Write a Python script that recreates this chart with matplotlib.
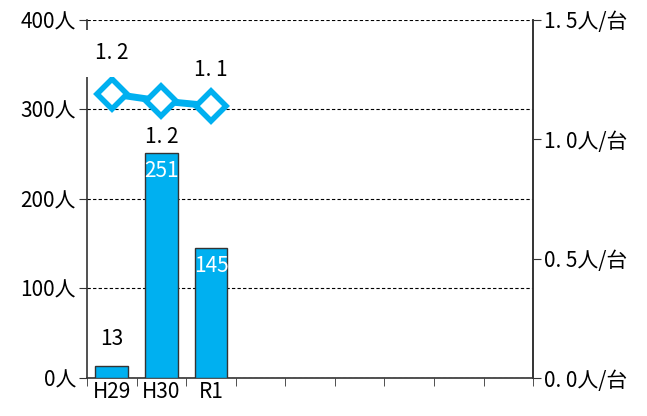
import numpy as np
import matplotlib.pyplot as plt

plt.rcParams['font.family'] = ['Noto Sans CJK JP', 'DejaVu Sans']

年度 = ['H29', 'H30', 'R1', '', '', '', '', '', '']
人数 = [13, 251, 145]
人数_台 = [1.19, 1.16, 1.14]
比率ラベル = ['1. 2', '1. 2', '1. 1']
色 = '#00B0F0'
fs = 15

fig = plt.figure(figsize=(6.47, 4.16), dpi=100)
ax = fig.add_axes([0.1345, 0.0913, 0.6895, 0.861])
x = np.arange(len(年度))
n = len(人数)

ax.bar(x[:n], 人数, width=0.66, color=色, edgecolor='#333333', linewidth=1, zorder=3)
for i, v in enumerate(人数):
    if v < 50:
        ax.text(i, v + 18, str(v), ha='center', va='bottom', fontsize=fs, color='black')
    else:
        ax.text(i, v - 8, str(v), ha='center', va='top', fontsize=fs, color='white', zorder=4)

ax.set_xlim(-0.5, len(年度) - 0.5)
ax.set_ylim(0, 400)
ax.set_yticks([0, 100, 200, 300, 400])
ax.set_yticklabels([f'{v}人' for v in [0, 100, 200, 300, 400]], fontsize=fs)
ax.set_xticks(x)
ax.set_xticklabels(年度, fontsize=fs)
ax.set_xticks(np.arange(-0.5, len(年度)), minor=True)
ax.tick_params(axis='x', which='major', length=0, pad=2)
ax.tick_params(axis='x', which='minor', length=6, direction='out', color='#333333')
ax.tick_params(axis='y', length=6, direction='out', color='#333333', pad=2)
ax.grid(axis='y', linestyle=(0, (3, 2)), color='black', linewidth=0.8, zorder=0)
ax.spines['top'].set_visible(False)
for s in ['left', 'bottom', 'right']:
    ax.spines[s].set_color('#333333')
    ax.spines[s].set_linewidth(1.2)

ax2 = ax.twinx()
ax2.set_ylim(0, 1.5)
ax2.set_yticks([0, 0.5, 1.0, 1.5])
ax2.set_yticklabels([f'{v:.1f}'.replace('.', '. ') + '人/台' for v in [0, 0.5, 1.0, 1.5]], fontsize=fs)
ax2.tick_params(axis='y', length=6, direction='out', color='#333333', pad=2)
for s in ['top', 'left', 'bottom']:
    ax2.spines[s].set_visible(False)
ax2.spines['right'].set_color('#333333')
ax2.spines['right'].set_linewidth(1.2)

ax2.plot(x[:n], 人数_台, color=色, linewidth=5, marker='D', markersize=15,
         markerfacecolor='white', markeredgecolor=色, markeredgewidth=4, zorder=5)
offsets = [0.17, -0.15, 0.15]
for i, (v, lab) in enumerate(zip(人数_台, 比率ラベル)):
    bbox = dict(facecolor='white', edgecolor='none', pad=9) if i == 0 else None
    ax2.text(i, v + offsets[i], lab, ha='center', va='center', fontsize=fs,
             bbox=bbox, zorder=6, clip_on=False)

fig.savefig('out.png', dpi=100)
